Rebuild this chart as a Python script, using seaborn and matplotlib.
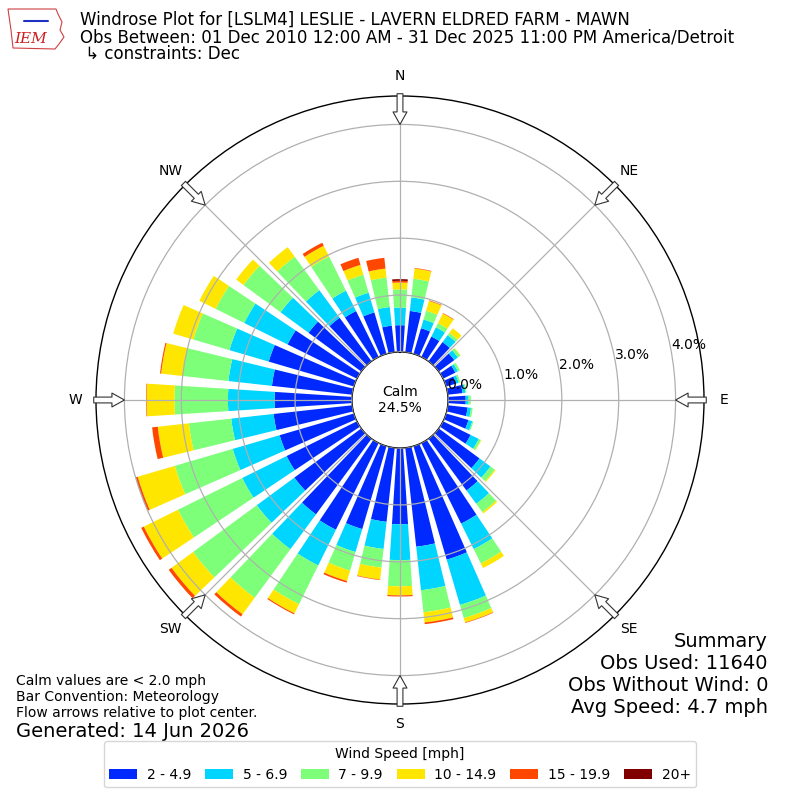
import numpy as np
import matplotlib
matplotlib.use("Agg")
import matplotlib.pyplot as plt
from matplotlib.patches import Patch, Polygon
import seaborn as sns

# wind direction bins (deg, meteorological) and percent of obs per speed bin
directions = np.arange(0, 360, 10)
speed_labels = ["2 - 4.9", "5 - 6.9", "7 - 9.9", "10 - 14.9", "15 - 19.9", "20+"]

pct_2_5 = [0.47, 0.73, 0.47, 0.40, 0.42, 0.34, 0.24, 0.18, 0.26, 0.31, 0.35, 0.41,
           0.54, 0.89, 1.13, 1.58, 2.08, 1.75, 1.34, 1.31, 1.52, 1.70, 1.65, 1.46,
           1.38, 1.36, 1.39, 1.36, 1.42, 1.56, 1.36, 1.15, 0.95, 0.90, 0.76, 0.47]
pct_5_7 = [0.31, 0.24, 0.16, 0.18, 0.15, 0.08, 0.05, 0.05, 0.05, 0.05, 0.06, 0.07,
           0.16, 0.24, 0.29, 0.50, 0.83, 0.77, 0.63, 0.48, 0.42, 0.70, 0.76, 0.82,
           0.87, 0.86, 0.75, 0.82, 0.77, 0.72, 0.85, 0.61, 0.60, 0.40, 0.36, 0.33]
pct_7_10 = [0.32, 0.33, 0.16, 0.08, 0.05, 0.05, 0.04, 0.03, 0.02, 0.04, 0.03, 0.02,
            0.04, 0.09, 0.18, 0.28, 0.24, 0.39, 0.46, 0.33, 0.34, 0.76, 1.06, 1.39,
            1.26, 1.06, 0.75, 0.94, 0.81, 0.66, 0.56, 0.81, 0.73, 0.67, 0.33, 0.52]
pct_10_15 = [0.12, 0.18, 0.18, 0.19, 0.10, 0.01, 0.00, 0.00, 0.00, 0.00, 0.00, 0.00,
             0.01, 0.02, 0.03, 0.09, 0.08, 0.18, 0.16, 0.21, 0.19, 0.18, 0.36, 0.47,
             0.67, 0.68, 0.55, 0.49, 0.38, 0.37, 0.32, 0.16, 0.21, 0.21, 0.18, 0.16]
pct_15_20 = [0.03, 0.01, 0.01, 0.01, 0.00, 0.00, 0.00, 0.00, 0.00, 0.00, 0.00, 0.00,
             0.00, 0.00, 0.00, 0.00, 0.01, 0.03, 0.02, 0.01, 0.03, 0.02, 0.05, 0.06,
             0.05, 0.04, 0.10, 0.01, 0.02, 0.00, 0.00, 0.00, 0.00, 0.06, 0.13, 0.19]
pct_20 = [0.03, 0.00, 0.00, 0.00, 0.00, 0.00, 0.00, 0.00, 0.00, 0.00, 0.00, 0.00,
          0.00, 0.00, 0.00, 0.00, 0.00, 0.00, 0.00, 0.00, 0.00, 0.00, 0.00, 0.00,
          0.00, 0.00, 0.00, 0.00, 0.00, 0.00, 0.00, 0.00, 0.00, 0.00, 0.00, 0.00]

calm_pct = 24.5
rticks = [0, 1, 2, 3, 4]
compass = ["N", "NE", "E", "SE", "S", "SW", "W", "NW"]

sns.set_theme(style="white")
plt.rcParams["font.family"] = ["DejaVu Sans"]
plt.rcParams["text.color"] = "black"

colors = plt.get_cmap("jet")(np.linspace(1 / 6, 1, 6))
series = [pct_2_5, pct_5_7, pct_7_10, pct_10_15, pct_15_20, pct_20]

fig = plt.figure(figsize=(8, 8), dpi=100)
ax = fig.add_axes([0.12, 0.12, 0.76, 0.76], projection="polar")
ax.set_theta_zero_location("N")
ax.set_theta_direction(-1)

theta = np.deg2rad(directions)
bottom = np.zeros(len(directions))
for vals, col in zip(series, colors):
    vals = np.asarray(vals)
    ax.bar(theta, vals, width=np.deg2rad(7.4), bottom=bottom, color=col,
           edgecolor="none", align="center", zorder=1)
    bottom += vals

ax.set_rorigin(-0.845)
ax.set_ylim(0, 4.5)
ax.set_rticks(rticks)
ax.set_yticklabels([f"{v:.1f}%" for v in rticks], fontsize=10, color="black")
ax.set_rlabel_position(80)
ax.set_thetagrids(np.arange(0, 360, 45), compass)
ax.tick_params(axis="x", pad=1.5, labelsize=10, colors="black")
ax.set_axisbelow(False)
ax.grid(True, color="#b0b0b0", lw=0.9)
for sp in ax.spines.values():
    sp.set_color("black")
    sp.set_linewidth(1.0)

ax.text(0.5, 0.5, f"Calm\n{calm_pct:.1f}%", transform=ax.transAxes,
        ha="center", va="center", fontsize=10)

# flow arrows at the compass points
for ang in np.deg2rad(np.arange(0, 360, 45)):
    ax.annotate("", xy=(ang, 4.0), xytext=(ang, 4.54), annotation_clip=False,
                arrowprops=dict(arrowstyle="simple,head_length=0.9,head_width=1.0,tail_width=0.42",
                                fc="white", ec="#333333", lw=0.8,
                                shrinkA=0, shrinkB=0, mutation_scale=10))

# header
fig.text(0.1, 0.969, "Windrose Plot for [LSLM4] LESLIE - LAVERN ELDRED FARM - MAWN", fontsize=12)
fig.text(0.1, 0.947, "Obs Between: 01 Dec 2010 12:00 AM - 31 Dec 2025 11:00 PM America/Detroit",
         fontsize=12)
fig.text(0.1, 0.926, " \u21b3 constraints: Dec", fontsize=12)

# rough logo
iowa = np.array([[8, 9], [56, 9], [58, 14], [62, 22], [60, 30], [64, 37],
                 [59, 44], [55, 49], [13, 48], [11, 30], [8, 9]])
fig.add_artist(Polygon(np.c_[iowa[:, 0] / 800, 1 - iowa[:, 1] / 800], closed=True,
                       fill=False, ec="#d04040", lw=0.8, transform=fig.transFigure))
fig.text(0.018, 0.946, "IEM", fontsize=11, color="#cc2020", style="italic", family="serif")
fig.add_artist(plt.Line2D([24 / 800, 48 / 800], [1 - 21 / 800, 1 - 21 / 800],
                          color="#2030c0", lw=1.5, transform=fig.transFigure))

# notes
fig.text(0.02, 0.144, "Calm values are < 2.0 mph", fontsize=10)
fig.text(0.02, 0.124, "Bar Convention: Meteorology", fontsize=10)
fig.text(0.02, 0.104, "Flow arrows relative to plot center.", fontsize=10)
fig.text(0.02, 0.079, "Generated: 14 Jun 2026", fontsize=14)

summary = ["Summary", "Obs Used: 11640", "Obs Without Wind: 0", "Avg Speed: 4.7 mph"]
for i, line in enumerate(summary):
    fig.text(0.96, 0.191 - i * 0.0275, line, fontsize=14, ha="right")

handles = [Patch(facecolor=c, edgecolor="none") for c in colors]
leg = fig.legend(handles, speed_labels, loc="lower center", bbox_to_anchor=(0.5, 0.007),
                 ncol=6, fontsize=10, title="Wind Speed [mph]", title_fontsize=10,
                 frameon=True, handlelength=2.0, handletextpad=0.7, columnspacing=1.0)
leg.get_frame().set_edgecolor("#cccccc")

fig.savefig("out.png", dpi=100)
